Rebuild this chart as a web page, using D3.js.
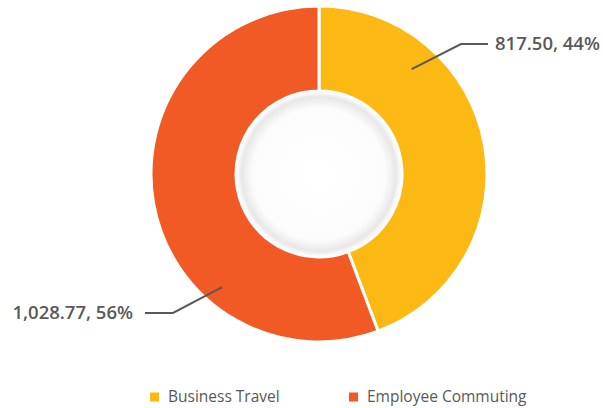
<!DOCTYPE html>
<html>
<head>
<meta charset="utf-8">
<style>
  body { margin: 0; background: #fff; }
  svg { display: block; font-family: 'Open Sans', 'Noto Sans', sans-serif; }
</style>
</head>
<body>
<svg id="chart" width="603" height="408"></svg>
<script src="https://d3js.org/d3.v7.min.js"></script>
<script>
const categories = ["Business Travel", "Employee Commuting"];
const values = [817.50, 1028.77];
const colors = ["#FDB913", "#F15A24"];

const width = 603, height = 408;
const cx = 319, cy = 174;
const outerR = 168, innerR = 83;

const svg = d3.select("#chart");

const defs = svg.append("defs");
const grad = defs.append("radialGradient").attr("id", "hole");
grad.append("stop").attr("offset", "0%").attr("stop-color", "#ffffff");
grad.append("stop").attr("offset", "80%").attr("stop-color", "#fcfcfc");
grad.append("stop").attr("offset", "93%").attr("stop-color", "#e8e8e8");
grad.append("stop").attr("offset", "96%").attr("stop-color", "#f3f3f3");
grad.append("stop").attr("offset", "100%").attr("stop-color", "#ffffff");

const pie = d3.pie().sort(null).value(d => d);
const arcs = pie(values);
const arc = d3.arc().innerRadius(innerR).outerRadius(outerR);

const g = svg.append("g").attr("transform", `translate(${cx},${cy})`);

g.selectAll("path.slice")
  .data(arcs)
  .join("path")
  .attr("class", "slice")
  .attr("d", arc)
  .attr("fill", (d, i) => colors[i])
  .attr("stroke", "#fff")
  .attr("stroke-width", 3);

g.append("circle")
  .attr("r", innerR)
  .attr("fill", "url(#hole)");

// data labels with leader lines
const total = d3.sum(values);
const fmt = d3.format(",.2f");
const labelCfg = [
  { t: 0.26, r: 140, elbow: [142, -130], end: 169, anchor: "start" },
  { t: 0.305, r: 149, elbow: [-146, 139], end: -174, anchor: "end" }
];

arcs.forEach((d, i) => {
  const c = labelCfg[i];
  const a = d.startAngle + c.t * (d.endAngle - d.startAngle);
  const p0 = [c.r * Math.sin(a), -c.r * Math.cos(a)];
  const p1 = c.elbow;
  const p2 = [c.end, c.elbow[1]];
  g.append("polyline")
    .attr("points", [p0, p1, p2].map(p => p.join(",")).join(" "))
    .attr("fill", "none")
    .attr("stroke", "#595959")
    .attr("stroke-width", 2);
  g.append("text")
    .attr("x", c.end + (c.anchor === "start" ? 7 : -12))
    .attr("y", c.elbow[1])
    .attr("dy", "0.35em")
    .attr("text-anchor", c.anchor)
    .attr("fill", "#595959")
    .attr("font-size", 18.5)
    .attr("font-weight", 600)
    .text(fmt(d.data) + ", " + Math.round(d.data / total * 100) + "%");
});

// legend
const legendX = [150, 349];
const legend = svg.append("g").attr("transform", "translate(0,397)");
categories.forEach((c, i) => {
  legend.append("rect")
    .attr("x", legendX[i]).attr("y", -4.5)
    .attr("width", 9).attr("height", 9)
    .attr("fill", colors[i]);
  legend.append("text")
    .attr("x", legendX[i] + 18)
    .attr("y", 0)
    .attr("dy", "0.35em")
    .attr("fill", "#595959")
    .attr("font-size", 15.5)
    .text(c);
});
</script>
</body>
</html>
